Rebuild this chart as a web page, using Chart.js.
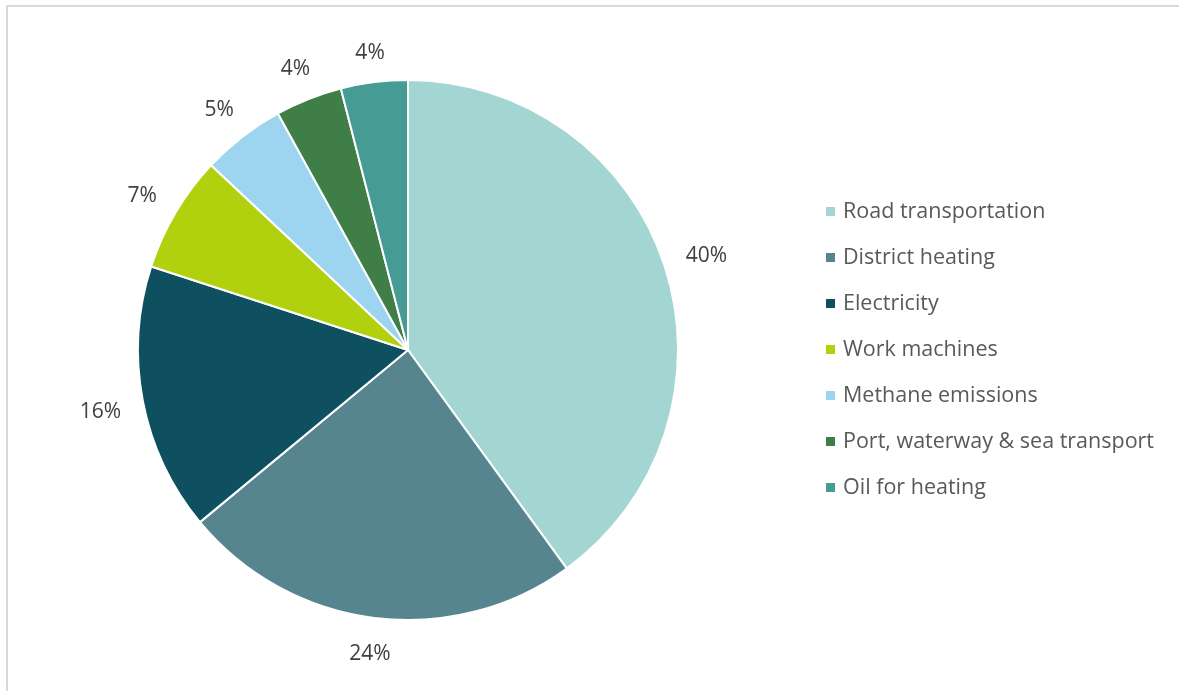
<!DOCTYPE html>
<html>
<head>
<meta charset="utf-8">
<script src="https://cdn.jsdelivr.net/npm/chart.js@4"></script>
<style>
  html, body { margin: 0; padding: 0; background: #fff; overflow: hidden; }
  #wrap { position: relative; width: 1179px; height: 691px; }
</style>
</head>
<body>
<div id="wrap"><canvas id="emissionsChart"></canvas></div>
<script>
// Emission sources and their share (%)
const sources = ['Road transportation', 'District heating', 'Electricity', 'Work machines',
                 'Methane emissions', 'Port, waterway & sea transport', 'Oil for heating'];
const shares = [40, 24, 16, 7, 5, 4, 4];
const sliceColors = ['#a3d6d2', '#56858f', '#0f5060', '#b1d10f', '#9dd4ef', '#3f7f47', '#469c94'];

const FONT = '"Open Sans", Lato, sans-serif';

// Light frame around the whole figure
const framePlugin = {
    id: 'frame',
    beforeDraw(chart) {
        const ctx = chart.ctx;
        ctx.save();
        ctx.strokeStyle = '#d9d9d9';
        ctx.lineWidth = 2;
        ctx.strokeRect(7, 6, chart.width + 20, chart.height + 20);
        ctx.restore();
    }
};

// Percentage labels just outside each slice
const outsideLabels = {
    id: 'outsideLabels',
    afterDatasetsDraw(chart) {
        const ctx = chart.ctx;
        const meta = chart.getDatasetMeta(0);
        ctx.save();
        ctx.font = '21px ' + FONT;
        ctx.fillStyle = '#404040';
        ctx.textAlign = 'center';
        ctx.textBaseline = 'middle';
        meta.data.forEach((arc, i) => {
            const p = arc.getProps(['x', 'y', 'startAngle', 'endAngle', 'outerRadius'], true);
            const mid = (p.startAngle + p.endAngle) / 2;
            const dx = Math.cos(mid), dy = Math.sin(mid);
            const text = shares[i] + '%';
            const w = ctx.measureText(text).width;
            const extent = Math.abs(dx) * w / 2 + Math.abs(dy) * 10;
            const d = p.outerRadius + 21 + extent;
            ctx.fillText(text, p.x + dx * d, p.y + dy * d + 3);
        });
        ctx.restore();
    }
};

// Legend on the right, square swatches
const sideLegend = {
    id: 'sideLegend',
    afterDraw(chart) {
        const ctx = chart.ctx;
        const x0 = 826, y0 = 211, step = 46;
        ctx.save();
        ctx.font = '21.5px ' + FONT;
        ctx.textBaseline = 'middle';
        chart.data.labels.forEach((label, i) => {
            const y = y0 + i * step;
            ctx.fillStyle = sliceColors[i];
            ctx.fillRect(x0, y - 4, 9, 9);
            ctx.fillStyle = '#595959';
            ctx.fillText(label, x0 + 17, y + 1);
        });
        ctx.restore();
    }
};

new Chart(document.getElementById('emissionsChart'), {
    type: 'pie',
    data: {
        labels: sources,
        datasets: [{
            data: shares,
            backgroundColor: sliceColors,
            borderColor: '#ffffff',
            borderWidth: 2
        }]
    },
    options: {
        responsive: true,
        maintainAspectRatio: false,
        animation: false,
        layout: { padding: { left: 137, right: 500, top: 79, bottom: 70 } },
        plugins: {
            legend: { display: false },
            tooltip: { enabled: false }
        }
    },
    plugins: [framePlugin, outsideLabels, sideLegend]
});
</script>
</body>
</html>
